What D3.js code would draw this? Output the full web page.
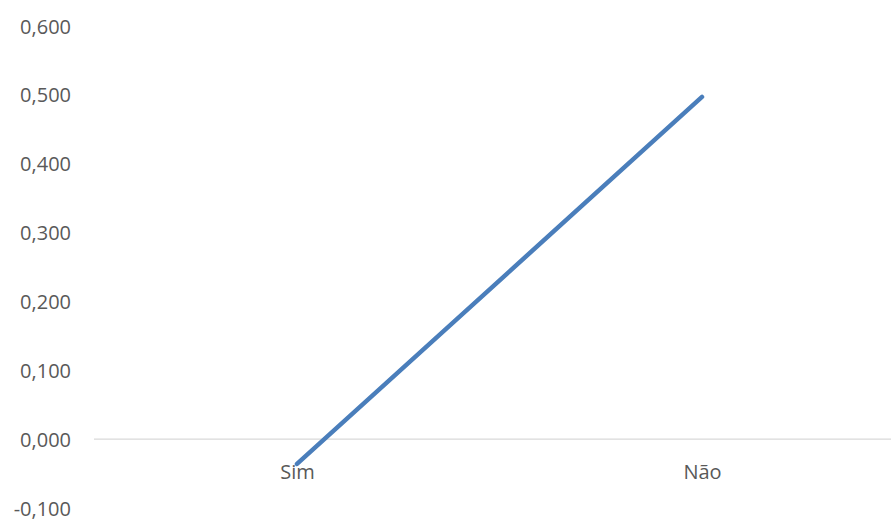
<!DOCTYPE html>
<html>
<head>
<meta charset="utf-8">
<script src="https://cdn.jsdelivr.net/npm/d3@7"></script>
<style>
  html, body { margin: 0; padding: 0; background: #fff; }
  svg { display: block; }
</style>
</head>
<body>
<svg id="chart" width="891" height="520"></svg>
<script>
// Chart data
const categories = ["Sim", "Não"];
const values = [-0.036, 0.497];
const yTicks = [-0.1, 0, 0.1, 0.2, 0.3, 0.4, 0.5, 0.6];

const svg = d3.select("#chart");
const fmt = v => d3.format(".3f")(v).replace(".", ",").replace("−", "-");

const x = d3.scalePoint()
  .domain(categories)
  .range([94.5, 904.5])
  .padding(0.5);

const y = d3.scaleLinear()
  .domain([-0.1, 0.6])
  .range([508, 26]);

// Y tick labels (no axis line, no grid except the zero line)
const yAxis = d3.axisLeft(y)
  .tickValues(yTicks)
  .tickFormat(fmt)
  .tickSize(0)
  .tickPadding(0);

const gy = svg.append("g")
  .attr("transform", "translate(71,0)")
  .call(yAxis);
gy.select(".domain").remove();
gy.selectAll("text")
  .attr("font-family", "'Open Sans', sans-serif")
  .attr("font-size", 20)
  .attr("fill", "#595959")
  .attr("dy", "0.35em");

// Horizontal category axis at zero
svg.append("line")
  .attr("x1", 94).attr("x2", 891)
  .attr("y1", y(0)).attr("y2", y(0))
  .attr("stroke", "#d9d9d9")
  .attr("stroke-width", 1.2);

const xAxis = d3.axisBottom(x).tickSize(0).tickPadding(0);
const gx = svg.append("g")
  .attr("transform", `translate(0,${y(0)})`)
  .call(xAxis);
gx.select(".domain").remove();
gx.selectAll("text")
  .attr("font-family", "'Open Sans', sans-serif")
  .attr("font-size", 20)
  .attr("fill", "#595959")
  .attr("dy", "0")
  .attr("y", 40);

// Series line
const line = d3.line()
  .x((d, i) => x(categories[i]))
  .y(d => y(d));

svg.append("path")
  .datum(values)
  .attr("d", line)
  .attr("fill", "none")
  .attr("stroke", "#4a7ebb")
  .attr("stroke-width", 4.5)
  .attr("stroke-linecap", "round");
</script>
</body>
</html>
